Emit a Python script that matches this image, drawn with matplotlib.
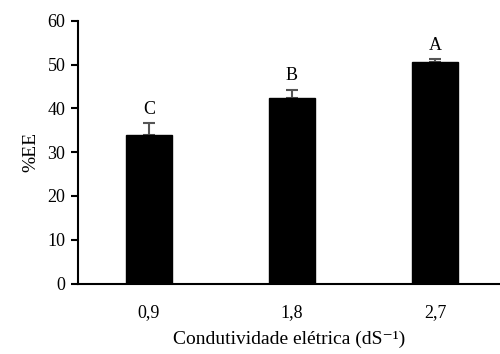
import numpy as np
import matplotlib.pyplot as plt

plt.rcParams['font.family'] = ['Liberation Serif', 'DejaVu Serif']

categorias = ['0,9', '1,8', '2,7']
valores = [34.0, 42.3, 50.5]
erros = [2.6, 2.0, 0.7]
letras = ['C', 'B', 'A']

fig = plt.figure(figsize=(5, 3.54), dpi=100)
ax = fig.add_axes([0.156, 0.199, 0.844, 0.742])

x = np.arange(len(categorias))
ax.bar(x, valores, width=0.32, color='black', edgecolor='black', zorder=3)
ax.errorbar(x, valores, yerr=[np.zeros(3), erros], fmt='none', ecolor='#555555',
            elinewidth=1.5, capsize=4, capthick=1.5, zorder=2)
for xi, v, e, l in zip(x, valores, erros, letras):
    ax.text(xi, v + e + 1.3, l, ha='center', va='bottom', fontsize=13)

ax.set_xlim(-0.497, 2.455)
ax.set_ylim(0, 60)
ax.set_yticks(range(0, 61, 10))
ax.set_xticks(x)
ax.set_xticklabels(categorias)
ax.tick_params(axis='y', direction='out', length=5, width=1.5, labelsize=13, pad=4)
ax.tick_params(axis='x', length=0, labelsize=13, pad=15)
for s in ['top', 'right']:
    ax.spines[s].set_visible(False)
for s in ['left', 'bottom']:
    ax.spines[s].set_linewidth(1.5)

ax.set_ylabel('%EE', fontsize=14, labelpad=6)
ax.set_xlabel('Condutividade elétrica (dS⁻¹)', fontsize=14, labelpad=7)

fig.savefig('out.png', dpi=100)
